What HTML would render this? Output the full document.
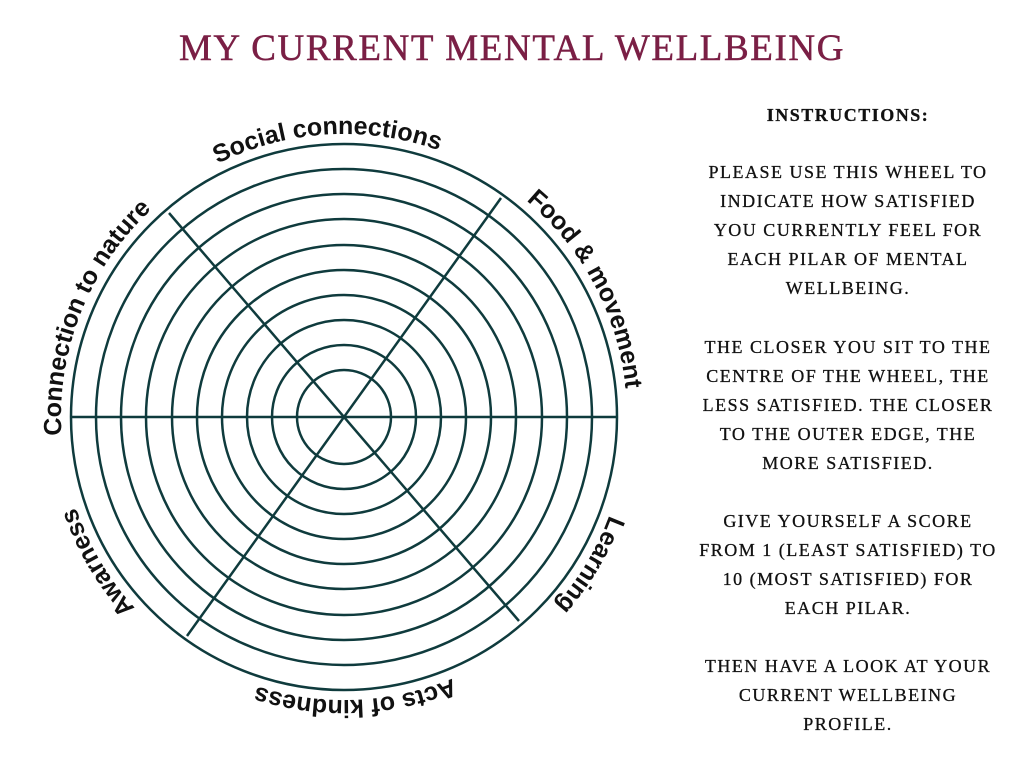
<!DOCTYPE html>
<html><head><meta charset="utf-8"><style>
body{margin:0;width:1024px;height:768px;background:#fff;position:relative;overflow:hidden}
.t{position:absolute;left:0;width:1024px;top:27px;text-align:center;font-family:"Liberation Serif",serif;font-size:37px;color:#7a1f45;letter-spacing:1.6px;-webkit-text-stroke:0.5px #7a1f45}
.ins{position:absolute;left:690px;width:316px;text-align:center;font-family:"Liberation Serif",serif;font-size:18px;line-height:29px;color:#111;letter-spacing:1.5px;-webkit-text-stroke:0.3px #111;white-space:nowrap}
</style></head><body>
<div class="t">MY CURRENT MENTAL WELLBEING</div>
<svg width="1024" height="768" style="position:absolute;left:0;top:0">
<g fill="none" stroke="#0f3b3d" stroke-width="2.5">
<circle cx="344" cy="417" r="273"/><circle cx="344" cy="417" r="248"/><circle cx="344" cy="417" r="223"/><circle cx="344" cy="417" r="198"/><circle cx="344" cy="417" r="172"/><circle cx="344" cy="417" r="147"/><circle cx="344" cy="417" r="122"/><circle cx="344" cy="417" r="97"/><circle cx="344" cy="417" r="72"/><circle cx="344" cy="417" r="47"/>
<line x1="71" y1="417" x2="617" y2="417"/>
<line x1="169" y1="213" x2="519" y2="621"/>
<line x1="501" y1="198" x2="187" y2="636"/>
</g>
<path id="c" d="M627,417 A283,283 0 1 1 61,417 A283,283 0 1 1 627,417" fill="none"/>
<g font-family="Liberation Sans,sans-serif" font-weight="bold" font-size="25" fill="#111" text-anchor="middle">
<text><textPath href="#c" startOffset="1316">Social connections</textPath></text>
<text><textPath href="#c" startOffset="1640">Food &amp; movement</textPath></text>
<text><textPath href="#c" startOffset="153">Learning</textPath></text>
<text><textPath href="#c" startOffset="433">Acts of kindness</textPath></text>
<text><textPath href="#c" startOffset="738">Awarness</textPath></text>
<text><textPath href="#c" startOffset="996">Connection to nature</textPath></text>
</g>
</svg>
<div class="ins" style="top:101px;font-weight:bold">INSTRUCTIONS:</div>
<div class="ins" style="top:158px">PLEASE USE THIS WHEEL TO<br>INDICATE HOW SATISFIED<br>YOU CURRENTLY FEEL FOR<br>EACH PILAR OF MENTAL<br>WELLBEING.</div>
<div class="ins" style="top:333px">THE CLOSER YOU SIT TO THE<br>CENTRE OF THE WHEEL, THE<br>LESS SATISFIED. THE CLOSER<br>TO THE OUTER EDGE, THE<br>MORE SATISFIED.</div>
<div class="ins" style="top:507px">GIVE YOURSELF A SCORE<br>FROM 1 (LEAST SATISFIED) TO<br>10 (MOST SATISFIED) FOR<br>EACH PILAR.</div>
<div class="ins" style="top:652px">THEN HAVE A LOOK AT YOUR<br>CURRENT WELLBEING<br>PROFILE.</div>
</body></html>
